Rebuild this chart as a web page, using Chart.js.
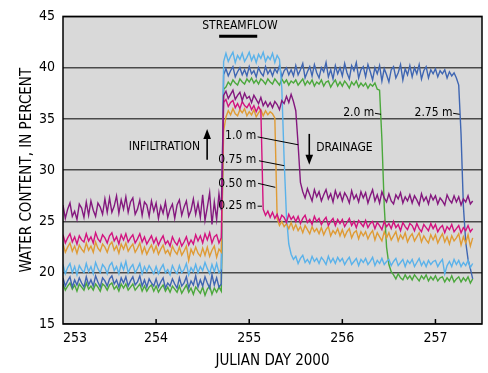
<!DOCTYPE html>
<html>
<head>
<meta charset="utf-8">
<script src="https://cdn.jsdelivr.net/npm/chart.js@4.4.1/dist/chart.umd.min.js"></script>
<style>
  html, body { margin: 0; padding: 0; background: #ffffff; }
  #wrap { width: 488px; height: 373px; }
</style>
</head>
<body>
<div id="wrap"><canvas id="chart" width="488" height="373"></canvas></div>
<script>
// Soil water content under a streambed, logged every 0.025 day from day 253.000.
const firstDay = 253;
const sampleStep = 0.025;

// 0.25 m probe
const wc025 = [
  23.7, 22.9, 23.4, 23.8, 23.0, 23.5, 22.8, 23.6, 23.2, 23.0,
  23.8, 23.1, 23.5, 22.9, 23.9, 23.3, 23.0, 23.7, 23.4, 22.9,
  23.6, 23.9, 23.1, 23.5, 22.8, 23.7, 23.2, 23.8, 23.0, 23.4,
  23.7, 22.9, 23.3, 23.8, 23.0, 23.5, 22.8, 23.2, 23.6, 22.9,
  23.4, 22.7, 23.2, 23.6, 22.8, 23.1, 22.6, 23.5, 23.0, 22.7,
  23.3, 22.6, 23.0, 23.5, 22.7, 23.2, 22.8, 23.7, 23.1, 23.6,
  22.9, 23.8, 23.2, 23.9, 22.9, 23.5, 23.7, 22.9, 23.4, 36.6,
  36.9, 36.2, 36.6, 36.8, 36.1, 36.5, 36.0, 36.7, 36.3, 36.1,
  36.5, 35.9, 36.3, 35.7, 36.2, 35.8, 26.2, 25.6, 26.0, 25.4,
  25.9, 25.3, 25.7, 25.0, 25.6, 25.4, 24.9, 25.7, 25.2, 25.5,
  25.0, 25.5, 24.8, 25.3, 25.6, 24.9, 25.2, 24.7, 25.5, 25.0,
  25.3, 24.7, 25.1, 25.4, 24.6, 25.0, 25.3, 24.6, 25.2, 24.8,
  25.2, 24.5, 24.9, 25.3, 24.6, 25.0, 24.4, 25.1, 24.8, 24.5,
  25.1, 24.4, 24.8, 25.0, 24.3, 24.9, 24.6, 24.2, 25.0, 24.5,
  24.8, 24.3, 25.0, 24.4, 24.7, 24.1, 24.9, 24.5, 24.2, 24.8,
  24.6, 24.1, 24.8, 24.3, 24.0, 24.7, 24.4, 24.1, 24.8, 24.3,
  24.7, 24.0, 24.4, 24.6, 23.9, 24.5, 24.2, 24.7, 24.0, 24.3,
  24.6, 23.9, 24.4, 24.1, 24.6, 24.0, 24.3
];

// 0.50 m probe
const wc050 = [
  22.8, 22.0, 22.5, 22.9, 22.1, 22.6, 21.9, 22.7, 22.3, 22.0,
  22.9, 22.2, 22.6, 22.0, 23.0, 22.4, 22.1, 22.8, 22.5, 22.0,
  22.7, 23.0, 22.2, 22.6, 21.9, 22.8, 22.3, 22.9, 22.1, 22.5,
  22.8, 22.0, 22.4, 22.9, 21.9, 22.5, 21.8, 22.3, 22.7, 22.0,
  22.6, 21.8, 22.3, 22.7, 21.9, 22.2, 21.7, 22.6, 22.1, 21.8,
  22.5, 21.7, 22.1, 22.6, 21.2, 22.3, 21.8, 22.5, 21.9, 21.6,
  22.4, 21.7, 22.5, 21.6, 22.2, 22.6, 21.5, 22.3, 22.0, 33.8,
  35.2, 35.8, 35.4, 36.0, 35.5, 35.3, 35.9, 35.6, 36.0, 35.3,
  35.7, 35.4, 35.9, 35.2, 35.6, 35.9, 35.3, 35.8, 35.4, 35.7,
  35.5, 35.1, 25.3, 24.6, 25.0, 24.5, 24.8, 24.3, 24.9, 24.2,
  24.7, 24.1, 24.5, 23.9, 24.6, 24.2, 23.8, 24.5, 24.0, 24.3,
  23.8, 24.4, 23.7, 24.2, 24.5, 23.6, 24.1, 23.8, 24.3, 23.6,
  24.2, 23.5, 24.0, 24.3, 23.4, 23.9, 24.1, 23.3, 24.0, 23.6,
  24.0, 23.3, 23.8, 24.1, 23.2, 23.9, 23.5, 23.1, 24.0, 23.4,
  23.9, 23.2, 23.6, 24.0, 23.1, 23.7, 23.3, 23.9, 23.0, 23.5,
  23.8, 23.1, 23.5, 23.9, 23.0, 23.6, 23.2, 22.9, 23.7, 23.2,
  23.7, 22.9, 23.4, 23.8, 23.0, 23.5, 22.8, 23.6, 23.1, 23.4,
  23.8, 22.7, 23.5, 22.9, 23.7, 22.6, 23.4
];

// 0.75 m probe
const wc075 = [
  20.8, 19.9, 20.5, 20.9, 20.0, 20.6, 19.8, 20.7, 20.3, 20.0,
  20.9, 20.1, 20.6, 19.9, 21.0, 20.4, 20.0, 20.8, 20.5, 19.9,
  20.7, 21.0, 20.2, 20.6, 19.9, 20.9, 20.3, 21.1, 20.0, 20.5,
  20.8, 20.0, 20.4, 20.9, 19.9, 20.6, 20.1, 20.7, 20.3, 19.9,
  20.6, 19.9, 20.4, 20.8, 20.0, 20.3, 19.8, 20.7, 20.2, 19.9,
  20.7, 20.0, 20.3, 20.9, 19.8, 20.5, 20.1, 20.8, 20.0, 20.6,
  20.2, 21.0, 20.4, 19.9, 20.8, 20.1, 20.9, 20.0, 20.4, 40.6,
  41.4, 40.6, 41.1, 41.5, 40.5, 41.2, 40.8, 41.4, 40.6, 41.0,
  41.5, 40.7, 41.2, 40.5, 41.3, 40.9, 41.5, 40.6, 41.1, 40.8,
  41.4, 40.5, 41.2, 40.8, 38.0, 31.0, 25.5, 22.8, 21.8, 21.3,
  21.6, 20.9, 21.4, 21.7, 21.0, 21.3, 20.9, 21.6, 21.1, 21.4,
  20.9, 21.5, 21.2, 20.8, 21.6, 21.0, 21.4, 20.9, 21.5, 21.1,
  21.4, 20.8, 21.2, 21.5, 20.8, 21.1, 21.4, 20.7, 21.3, 21.0,
  21.4, 20.8, 21.1, 21.5, 20.7, 21.2, 20.9, 21.4, 20.8, 21.1,
  21.3, 20.7, 21.1, 21.4, 20.7, 21.0, 21.3, 20.6, 21.2, 20.9,
  21.3, 20.6, 21.0, 21.4, 20.7, 21.1, 20.6, 21.2, 20.8, 21.1,
  21.2, 20.6, 21.0, 21.3, 19.9, 20.7, 21.1, 20.6, 21.3, 20.8,
  21.2, 20.6, 21.0, 20.7, 21.2, 20.5, 20.9
];

// 1.0 m probe
const wc100 = [
  26.6, 25.3, 26.2, 26.8, 25.5, 26.0, 25.2, 26.7, 26.3, 25.4,
  26.9, 25.6, 27.0, 26.1, 25.5, 26.8, 26.4, 25.7, 27.2, 25.9,
  27.3, 25.9, 26.5, 27.5, 25.8, 27.1, 26.2, 27.4, 25.9, 26.9,
  27.3, 25.7, 26.2, 27.1, 25.6, 26.9, 26.6, 25.5, 27.0, 26.0,
  26.8, 25.3, 26.5, 25.8, 26.9, 25.4, 26.2, 26.7, 25.3, 26.6,
  27.1, 25.6, 26.4, 27.0, 25.5, 26.1, 27.2, 25.7, 26.8, 25.4,
  27.6, 25.1, 26.4, 27.8, 24.7, 26.9, 25.2, 27.7, 26.1, 37.3,
  37.7, 37.0, 37.4, 37.8, 36.9, 37.3, 37.6, 36.8, 37.5, 37.0,
  37.2, 36.6, 37.3, 36.9, 36.5, 37.1, 36.3, 36.7, 36.2, 36.6,
  36.1, 36.7, 36.4, 35.9, 36.8, 36.5, 37.2, 36.6, 37.4, 36.7,
  35.8, 32.5, 28.8, 27.9, 27.3, 28.2, 27.6, 27.0, 28.1, 27.4,
  27.9, 27.0, 27.6, 28.1, 27.2, 27.7, 26.9, 28.0, 27.3, 27.8,
  27.0, 27.8, 27.4, 26.8, 28.0, 27.2, 27.6, 26.9, 27.9, 27.3,
  27.8, 26.8, 27.5, 28.1, 27.0, 27.6, 26.8, 27.9, 27.3, 26.9,
  27.7, 27.0, 26.7, 27.6, 27.2, 27.8, 26.8, 27.4, 27.0, 27.6,
  26.8, 27.5, 27.1, 26.6, 27.7, 27.0, 27.4, 26.7, 27.6, 27.1,
  27.5, 26.7, 27.3, 27.0, 26.6, 27.6, 27.1, 26.8, 27.5, 26.9,
  27.4, 26.6, 27.2, 26.9, 27.5, 26.7, 27.0
];

// 2.0 m probe
const wc200 = [
  18.9, 18.3, 18.7, 19.0, 18.4, 18.8, 18.2, 18.9, 18.6, 18.3,
  19.0, 18.4, 18.7, 18.3, 18.9, 18.6, 18.2, 18.9, 18.7, 18.3,
  18.8, 19.0, 18.4, 18.7, 18.2, 18.9, 18.5, 18.9, 18.3, 18.6,
  18.9, 18.3, 18.6, 18.9, 18.2, 18.7, 18.2, 18.6, 18.8, 18.2,
  18.7, 18.1, 18.5, 18.8, 18.2, 18.6, 18.1, 18.7, 18.4, 18.1,
  18.7, 18.0, 18.4, 18.8, 18.1, 18.5, 17.9, 18.6, 18.3, 18.0,
  18.6, 17.8, 18.4, 18.7, 17.9, 18.5, 18.1, 18.6, 18.2, 37.9,
  38.1, 38.6, 38.3, 38.8, 38.5, 38.3, 38.9, 38.6, 38.4, 38.9,
  38.6, 39.0, 38.5, 38.8, 38.4, 38.9, 38.7, 38.4, 38.9, 38.6,
  38.4, 38.9, 38.6, 38.3, 38.9, 38.5, 38.8, 38.3, 38.7, 38.5,
  38.8, 38.3, 38.6, 38.9, 38.3, 38.7, 38.4, 38.8, 38.2, 38.6,
  38.4, 38.8, 38.2, 38.6, 38.7, 38.1, 38.5, 38.8, 38.2, 38.6,
  38.2, 38.7, 38.4, 38.0, 38.6, 38.3, 38.7, 38.1, 38.5, 38.2,
  38.5, 38.0, 38.4, 38.2, 38.5, 37.9, 37.8, 33.0, 26.5, 22.5,
  20.8, 20.1, 19.8, 19.4, 19.9, 19.5, 19.3, 19.8, 19.4, 19.7,
  19.3, 19.8, 19.5, 19.2, 19.7, 19.4, 19.8, 19.2, 19.6, 19.3,
  19.7, 19.2, 19.5, 19.6, 19.1, 19.5, 19.2, 19.7, 19.1, 19.4,
  19.6, 19.1, 19.5, 19.2, 19.6, 19.0, 19.4
];

// 2.75 m probe
const wc275 = [
  19.5, 18.7, 19.2, 19.6, 18.6, 19.3, 18.8, 19.5, 19.0, 18.6,
  19.6, 18.8, 19.3, 18.7, 19.7, 19.1, 18.6, 19.5, 19.2, 18.7,
  19.4, 19.7, 18.9, 19.3, 18.6, 19.5, 19.0, 19.6, 18.7, 19.2,
  19.6, 18.8, 19.1, 19.7, 18.7, 19.3, 18.6, 19.4, 19.0, 18.7,
  19.4, 18.6, 19.1, 19.5, 18.5, 19.0, 18.7, 19.4, 18.9, 18.5,
  19.5, 18.7, 19.0, 19.6, 18.5, 19.2, 18.8, 19.7, 18.6, 19.3,
  18.7, 19.6, 19.0, 18.5, 19.8, 18.8, 19.5, 18.6, 18.9, 39.3,
  39.9, 39.2, 39.7, 40.1, 39.1, 39.6, 40.0, 39.3, 39.8, 39.2,
  40.1, 39.4, 39.7, 39.1, 40.0, 39.5, 39.2, 40.1, 39.4, 39.8,
  39.2, 39.9, 39.5, 40.2, 39.1, 39.7, 40.0, 39.3, 39.8, 39.2,
  40.2, 39.3, 39.8, 40.4, 39.0, 39.6, 40.1, 39.2, 40.3, 39.5,
  39.0, 40.0, 39.6, 40.5, 39.1, 39.8, 38.9, 40.2, 39.4, 40.0,
  39.2, 40.4, 39.5, 38.9, 40.2, 39.7, 40.5, 39.0, 39.8, 40.1,
  39.1, 40.3, 39.6, 38.8, 40.0, 39.4, 40.2, 38.7, 39.9, 39.3,
  38.6, 39.8, 40.1, 39.0, 39.5, 40.3, 38.8, 39.9, 39.3, 40.2,
  39.1, 40.0, 39.4, 40.3, 38.9, 39.7, 40.1, 39.0, 39.8, 39.4,
  39.9, 39.1, 39.7, 39.4, 39.8, 39.0, 39.6, 39.2, 39.5, 39.0,
  38.3, 33.5, 26.5, 23.0, 21.3, 20.4, 19.4
];

const depthLabels = ['1.0 m', '0.25 m', '0.50 m', '0.75 m', '2.75 m', '2.0 m'];
const depthSeries = [wc100, wc025, wc050, wc075, wc275, wc200];
const depthColors = ['#84187e', '#d3137f', '#df9b35', '#5ab2ea', '#3f66b2', '#4ba83c'];

const yTicks = [15, 20, 25, 30, 35, 40, 45];
const xTicks = [253, 254, 255, 256, 257];

const days = wc025.map((_, i) => +(firstDay + i * sampleStep).toFixed(3));

const FONT = "'DejaVu Sans Condensed', 'Liberation Sans Narrow', 'Arial Narrow', sans-serif";
const INK = '#000000';

// Annotations placed in data units (day, percent)
const notes = [
  { text: 'STREAMFLOW', x: 254.90, y: 44.08, align: 'center' },
  { text: 'INFILTRATION', x: 254.473, y: 32.28, align: 'right' },
  { text: 'DRAINAGE', x: 255.72, y: 32.21, align: 'left' },
  { text: '1.0 m', x: 255.075, y: 33.35, align: 'right' },
  { text: '0.75 m', x: 255.075, y: 31.02, align: 'right' },
  { text: '0.50 m', x: 255.075, y: 28.69, align: 'right' },
  { text: '0.25 m', x: 255.075, y: 26.49, align: 'right' },
  { text: '2.0 m', x: 256.344, y: 35.61, align: 'right' },
  { text: '2.75 m', x: 257.183, y: 35.61, align: 'right' }
];
const leaders = [
  [255.090, 33.25, 255.527, 32.48],
  [255.105, 30.92, 255.376, 30.44],
  [255.095, 28.72, 255.280, 28.33],
  [255.090, 26.49, 255.137, 26.49],
  [256.350, 35.55, 256.415, 35.45],
  [257.190, 35.55, 257.260, 35.45]
];
const arrows = [
  [254.548, 31.02, 254.548, 34.03],
  [255.645, 33.54, 255.645, 30.53]
];
const streamflowSpan = [254.677, 255.086, 43.06];

const decor = {
  id: 'decor',
  beforeDraw(chart) {
    const { ctx, chartArea: a } = chart;
    ctx.save();
    ctx.fillStyle = '#d9d9d9';
    ctx.fillRect(a.left, a.top, a.right - a.left, a.bottom - a.top);
    ctx.restore();
  },
  afterDraw(chart) {
    const { ctx, chartArea: a, scales: { x, y } } = chart;
    ctx.save();
    // frame
    ctx.strokeStyle = '#000';
    ctx.lineWidth = 1.5;
    ctx.strokeRect(a.left, a.top, a.right - a.left, a.bottom - a.top);
    // inward tick marks on the day axis
    ctx.beginPath();
    xTicks.forEach(v => {
      const px = x.getPixelForValue(v);
      if (px > a.left + 1 && px < a.right - 1) {
        ctx.moveTo(px, a.bottom);
        ctx.lineTo(px, a.bottom - 5);
      }
    });
    ctx.stroke();
    // streamflow bar
    ctx.lineWidth = 3;
    ctx.beginPath();
    ctx.moveTo(x.getPixelForValue(streamflowSpan[0]), y.getPixelForValue(streamflowSpan[2]));
    ctx.lineTo(x.getPixelForValue(streamflowSpan[1]), y.getPixelForValue(streamflowSpan[2]));
    ctx.stroke();
    // leader lines
    ctx.lineWidth = 1;
    ctx.strokeStyle = INK;
    leaders.forEach(([x0, y0, x1, y1]) => {
      ctx.beginPath();
      ctx.moveTo(x.getPixelForValue(x0), y.getPixelForValue(y0));
      ctx.lineTo(x.getPixelForValue(x1), y.getPixelForValue(y1));
      ctx.stroke();
    });
    // arrows
    ctx.fillStyle = INK;
    arrows.forEach(([x0, y0, x1, y1]) => {
      const px = x.getPixelForValue(x0);
      const p0 = y.getPixelForValue(y0), p1 = y.getPixelForValue(y1);
      const dir = p1 < p0 ? -1 : 1;
      ctx.lineWidth = 1.6;
      ctx.beginPath();
      ctx.moveTo(px, p0);
      ctx.lineTo(px, p1 - dir * 7);
      ctx.stroke();
      ctx.beginPath();
      ctx.moveTo(px, p1);
      ctx.lineTo(px - 3.8, p1 - dir * 10);
      ctx.lineTo(px + 3.8, p1 - dir * 10);
      ctx.closePath();
      ctx.fill();
    });
    // labels
    ctx.font = '12px ' + FONT;
    ctx.textBaseline = 'middle';
    notes.forEach(n => {
      ctx.textAlign = n.align;
      ctx.fillText(n.text, x.getPixelForValue(n.x), y.getPixelForValue(n.y));
    });
    ctx.restore();
  }
};

new Chart(document.getElementById('chart'), {
  type: 'line',
  data: {
    datasets: depthSeries.map((vals, k) => ({
      label: depthLabels[k],
      data: vals.map((v, i) => ({ x: days[i], y: v })),
      borderColor: depthColors[k],
      borderWidth: 1.4,
      pointRadius: 0,
      tension: 0,
      fill: false
    }))
  },
  options: {
    responsive: false,
    animation: false,
    devicePixelRatio: 1,
    layout: { padding: { top: 15, right: 6, left: 0, bottom: 0 } },
    plugins: { legend: { display: false }, tooltip: { enabled: false } },
    scales: {
      x: {
        type: 'linear',
        min: 253,
        max: 257.5,
        afterFit(s) { s.height = 49; },
        afterBuildTicks(s) { s.ticks = xTicks.map(v => ({ value: v })).concat([{ value: 257.5 }]); },
        grid: { display: false, drawTicks: false },
        border: { display: false },
        ticks: {
          autoSkip: false,
          maxRotation: 0,
          align: 'inner',
          padding: 6,
          color: INK,
          font: { family: FONT, size: 14 },
          callback: v => (xTicks.includes(v) ? String(v) : '')
        },
        title: {
          display: true,
          text: 'JULIAN DAY 2000',
          color: INK,
          font: { family: FONT, size: 15, lineHeight: 1.2 },
          padding: { top: 0, bottom: 2.5 }
        }
      },
      y: {
        min: 15,
        max: 45,
        afterFit(s) { s.width = 63; },
        afterBuildTicks(s) { s.ticks = yTicks.map(v => ({ value: v })); },
        grid: { color: '#4a4a4a', lineWidth: 1.5, drawTicks: false },
        border: { display: false },
        ticks: {
          padding: 8,
          color: INK,
          font: { family: FONT, size: 14 }
        },
        title: {
          display: true,
          text: 'WATER CONTENT, IN PERCENT',
          color: INK,
          font: { family: FONT, size: 15, lineHeight: 1.2 },
          padding: { top: 18, bottom: 0 }
        }
      }
    }
  },
  plugins: [decor]
});
</script>
</body>
</html>
